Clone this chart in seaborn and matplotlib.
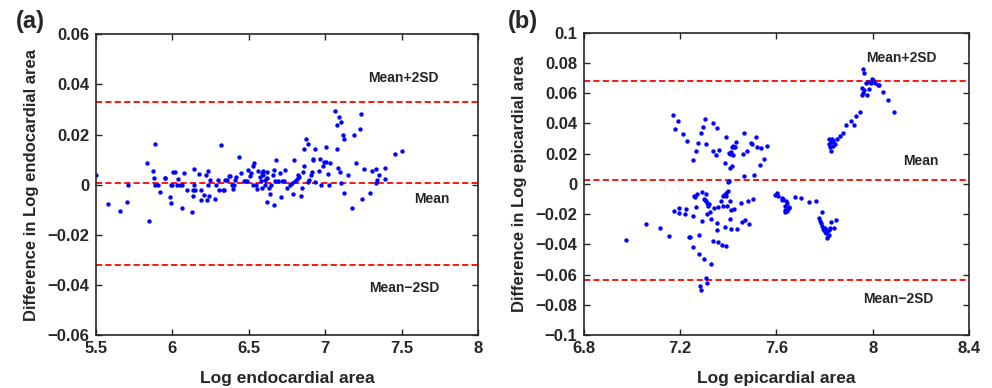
import matplotlib
matplotlib.use('Agg')
import matplotlib.pyplot as plt
import seaborn as sns
import pandas as pd
from matplotlib.ticker import FuncFormatter

# panel (a): endocardial
endo_x = [5.500, 5.576, 5.657, 5.703, 5.711, 5.833, 5.847, 5.871, 5.877, 5.884,
          5.884, 5.908, 5.921, 5.949, 5.953, 5.984, 5.988, 5.993, 6.001, 6.014,
          5.997, 6.030, 6.038, 6.051, 6.060, 6.064, 6.073, 6.095, 6.130, 6.134,
          6.134, 6.143, 6.143, 6.147, 6.171, 6.184, 6.189, 6.208, 6.217, 6.226,
          6.230, 6.235, 6.239, 6.243, 6.278, 6.282, 6.300, 6.304, 6.320, 6.328,
          6.339, 6.346, 6.354, 6.370, 6.376, 6.387, 6.398, 6.405, 6.411, 6.418,
          6.435, 6.446, 6.466, 6.476, 6.492, 6.487, 6.505, 6.511, 6.524, 6.529,
          6.537, 6.544, 6.551, 6.561, 6.570, 6.577, 6.585, 6.588, 6.592, 6.594,
          6.605, 6.609, 6.616, 6.618, 6.622, 6.629, 6.638, 6.644, 6.655, 6.662,
          6.664, 6.670, 6.679, 6.690, 6.701, 6.710, 6.716, 6.731, 6.738, 6.749,
          6.769, 6.782, 6.788, 6.795, 6.801, 6.812, 6.825, 6.830, 6.843, 6.849,
          6.854, 6.858, 6.864, 6.873, 6.884, 6.890, 6.897, 6.908, 6.915, 6.917,
          6.923, 6.930, 6.934, 6.960, 6.965, 6.973, 6.986, 6.989, 7.004, 7.008,
          7.017, 7.026, 7.032, 7.061, 7.074, 7.078, 7.082, 7.091, 7.095, 7.106,
          7.106, 7.115, 7.124, 7.126, 7.150, 7.178, 7.187, 7.204, 7.226, 7.231,
          7.239, 7.255, 7.292, 7.307, 7.331, 7.335, 7.342, 7.353, 7.390, 7.392,
          7.459, 7.505]
endo_diff = [0.0040, -0.0076, -0.0106, -0.0068, 0.0000, 0.0086, -0.0146, 0.0056, 0.0028, 0.0164,
             0.0000, 0.0000, -0.0028, 0.0025, 0.0025, -0.0051, 0.0000, -0.0074, 0.0049, 0.0049,
             0.0000, 0.0000, 0.0023, 0.0000, 0.0000, -0.0094, 0.0045, -0.0023, -0.0109, -0.0023,
             -0.0044, 0.0000, 0.0063, -0.0023, 0.0041, -0.0063, -0.0023, -0.0043, 0.0040, -0.0063,
             0.0056, 0.0000, -0.0044, 0.0017, -0.0059, 0.0000, 0.0017, -0.0020, 0.0160, -0.0020,
             -0.0020, 0.0017, 0.0017, 0.0033, 0.0033, 0.0000, -0.0017, 0.0000, 0.0017, 0.0031,
             0.0110, 0.0047, 0.0013, 0.0013, 0.0060, 0.0013, 0.0033, 0.0047, 0.0000, 0.0074,
             0.0086, 0.0000, -0.0017, 0.0056, 0.0031, 0.0013, -0.0015, 0.0047, 0.0056, 0.0040,
             0.0000, 0.0017, 0.0052, -0.0069, 0.0027, -0.0015, -0.0037, 0.0000, 0.0040, -0.0080,
             0.0060, 0.0013, 0.0100, 0.0013, 0.0047, -0.0049, 0.0013, 0.0013, 0.0057, -0.0015,
             0.0000, 0.0005, -0.0036, 0.0098, 0.0013, 0.0023, 0.0040, 0.0031, -0.0047, -0.0013,
             0.0052, 0.0073, 0.0142, 0.0182, 0.0162, 0.0012, 0.0017, 0.0040, 0.0052, 0.0104,
             0.0097, 0.0012, 0.0141, 0.0056, 0.0104, 0.0000, 0.0073, 0.0090, 0.0152, 0.0089,
             0.0044, 0.0000, 0.0088, 0.0294, 0.0142, 0.0239, 0.0065, 0.0269, 0.0049, 0.0249,
             0.0008, 0.0200, -0.0033, 0.0182, 0.0039, -0.0093, 0.0200, 0.0088, 0.0222, 0.0282,
             -0.0059, 0.0063, -0.0035, 0.0053, 0.0005, 0.0063, 0.0017, 0.0037, 0.0023, 0.0065,
             0.0124, 0.0134]
endo_limits = [0.0331, 0.0006, -0.0320]   # mean+2SD, mean, mean-2SD

# panel (b): epicardial
epi_x = [6.973, 7.058, 7.114, 7.155, 7.168, 7.173, 7.180, 7.191, 7.195, 7.195,
         7.210, 7.220, 7.225, 7.229, 7.236, 7.241, 7.252, 7.252, 7.253, 7.259,
         7.261, 7.264, 7.264, 7.271, 7.272, 7.279, 7.279, 7.282, 7.285, 7.286,
         7.289, 7.290, 7.293, 7.299, 7.300, 7.301, 7.304, 7.306, 7.306, 7.308,
         7.308, 7.310, 7.312, 7.312, 7.315, 7.317, 7.319, 7.322, 7.328, 7.329,
         7.335, 7.335, 7.339, 7.337, 7.349, 7.353, 7.353, 7.353, 7.356, 7.358,
         7.362, 7.368, 7.372, 7.378, 7.379, 7.383, 7.385, 7.386, 7.389, 7.390,
         7.391, 7.391, 7.396, 7.398, 7.400, 7.401, 7.403, 7.405, 7.405, 7.407,
         7.408, 7.409, 7.409, 7.412, 7.415, 7.415, 7.418, 7.419, 7.422, 7.424,
         7.428, 7.431, 7.435, 7.452, 7.458, 7.461, 7.464, 7.465, 7.469, 7.477,
         7.480, 7.484, 7.494, 7.497, 7.504, 7.508, 7.516, 7.520, 7.530, 7.534,
         7.549, 7.560,
         7.595, 7.603, 7.608, 7.621, 7.623, 7.628, 7.635, 7.635, 7.637, 7.639,
         7.644, 7.645, 7.646, 7.651, 7.653, 7.677, 7.703, 7.734, 7.766, 7.777,
         7.779, 7.784, 7.788, 7.789, 7.792, 7.797, 7.800, 7.802, 7.804, 7.808,
         7.811, 7.814, 7.817, 7.820, 7.824, 7.828, 7.839, 7.849,
         7.817, 7.820, 7.822, 7.825, 7.828, 7.831, 7.833, 7.836, 7.843, 7.850,
         7.865, 7.876, 7.890, 7.908, 7.921, 7.932, 7.946, 7.954, 7.957, 7.959,
         7.965, 7.971, 7.975, 7.979, 7.984, 7.993, 7.997, 8.002, 8.008, 8.020,
         8.026, 8.043, 8.065, 8.088, 7.958, 7.965]
epi_diff = [-0.0372, -0.0263, -0.0290, -0.0343, 0.0453, -0.0178, 0.0361, 0.0413, -0.0158, -0.0195,
            0.0327, -0.0197, -0.0169, 0.0286, -0.0352, -0.0352, 0.0155, -0.0416, -0.0215, -0.0078,
            -0.0089, 0.0215, -0.0155, -0.0069, 0.0268, -0.0336, -0.0466, -0.0674, 0.0336, -0.0702,
            -0.0243, -0.0056, 0.0374, -0.0103, -0.0499, 0.0427, -0.0107, 0.0261, -0.0623, -0.0067,
            -0.0111, -0.0202, -0.0656, -0.0127, -0.0130, -0.0144, -0.0133, -0.0186, -0.0528, -0.0235,
            0.0402, 0.0219, -0.0160, -0.0378, 0.0193, 0.0372, -0.0257, -0.0305, -0.0153, -0.0385,
            0.0222, -0.0116, -0.0402, -0.0083, -0.0149, -0.0076, 0.0140, -0.0283, -0.0409, 0.0310,
            -0.0080, -0.0058, -0.0149, -0.0050, 0.0012, 0.0021, 0.0202, 0.0195, 0.0107, -0.0114,
            -0.0230, -0.0301, -0.0173, 0.0212, 0.0116, 0.0246, 0.0193, 0.0248, -0.0164, 0.0246,
            0.0246, 0.0275, -0.0301, -0.0129, -0.0255, 0.0195, 0.0334, 0.0054, -0.0241, 0.0219,
            -0.0111, -0.0263, 0.0272, 0.0266, -0.0103, 0.0061, 0.0308, 0.0244, 0.0125, 0.0237,
            0.0162, 0.0248,
            -0.0072, -0.0063, -0.0083, -0.0094, -0.0107, -0.0103, -0.0189, -0.0171, -0.0144, -0.0116,
            -0.0129, -0.0182, -0.0158, -0.0151, -0.0162, -0.0087, -0.0096, -0.0118, -0.0116, -0.0228,
            -0.0243, -0.0261, -0.0277, -0.0184, -0.0301, -0.0305, -0.0321, -0.0290, -0.0327, -0.0358,
            -0.0312, -0.0345, -0.0305, -0.0341, -0.0292, -0.0255, -0.0292, -0.0239,
            0.0297, 0.0264, 0.0246, 0.0279, 0.0217, 0.0297, 0.0252, 0.0286, 0.0264, 0.0297,
            0.0319, 0.0338, 0.0387, 0.0416, 0.0387, 0.0449, 0.0473, 0.0632, 0.0588, 0.0603,
            0.0621, 0.0667, 0.0588, 0.0676, 0.0625, 0.0669, 0.0696, 0.0687, 0.0669, 0.0652,
            0.0652, 0.0610, 0.0555, 0.0473, 0.0757, 0.0735]
epi_limits = [0.0680, 0.0023, -0.0636]

limit_names = ['Mean+2SD', 'Mean', 'Mean\u22122SD']

sns.set_style('ticks')
plt.rcParams['font.family'] = ['Liberation Sans', 'DejaVu Sans']
plt.rcParams['font.weight'] = 'bold'
plt.rcParams['axes.labelweight'] = 'bold'

fig = plt.figure(figsize=(9.92, 3.88), dpi=100)
ax_a = fig.add_axes([0.0968, 0.1366, 0.3851, 0.7750])
ax_b = fig.add_axes([0.5887, 0.1366, 0.3881, 0.7791])

fmt = FuncFormatter(lambda v, p: '0' if abs(v) < 1e-9 else f'{v:g}'.replace('-', '\u2212'))


def draw_panel(ax, xs, ys, limits, xlim, ylim, xticks, yticks, xlabel, ylabel, text_pos):
    df = pd.DataFrame({'x': xs, 'y': ys})
    for val in limits:
        ax.axhline(val, color='red', linestyle='--', linewidth=1.3, dashes=(3.4, 1.8), zorder=1)
    sns.scatterplot(data=df, x='x', y='y', ax=ax, color='blue', s=10, linewidth=0, zorder=2)
    ax.set_xlim(*xlim)
    ax.set_ylim(*ylim)
    ax.set_xticks(xticks)
    ax.set_yticks(yticks)
    ax.xaxis.set_major_formatter(fmt)
    ax.yaxis.set_major_formatter(fmt)
    ax.tick_params(direction='in', top=True, right=True, length=4, width=1,
                   labelsize=12)
    ax.tick_params(axis='x', pad=4)
    ax.tick_params(axis='y', pad=5)
    for lab in ax.get_xticklabels() + ax.get_yticklabels():
        lab.set_fontweight('bold')
    for sp in ax.spines.values():
        sp.set_linewidth(1.2)
        sp.set_visible(True)
    ax.set_xlabel(xlabel, fontsize=12.5, fontweight='bold', labelpad=11)
    ax.set_ylabel(ylabel, fontsize=12, fontweight='bold', labelpad=6)
    for name, (tx, ty) in zip(limit_names, text_pos):
        ax.text(tx, ty, name, ha='center', va='center', fontsize=10, fontweight='bold')


draw_panel(ax_a, endo_x, endo_diff, endo_limits, (5.5, 8), (-0.06, 0.06),
           [5.5, 6, 6.5, 7, 7.5, 8], [-0.06, -0.04, -0.02, 0, 0.02, 0.04, 0.06],
           'Log endocardial area', 'Difference in Log endocardial area',
           [(7.51, 0.0424), (7.70, -0.0058), (7.52, -0.0413)])
draw_panel(ax_b, epi_x, epi_diff, epi_limits, (6.8, 8.4), (-0.1, 0.1),
           [6.8, 7.2, 7.6, 8, 8.4], [-0.1, -0.08, -0.06, -0.04, -0.02, 0, 0.02, 0.04, 0.06, 0.08, 0.1],
           'Log epicardial area', 'Difference in Log epicardial area',
           [(8.12, 0.083), (8.198, 0.0149), (8.105, -0.0762)])

fig.text(0.031, 0.945, '(a)', ha='center', va='center', fontsize=17, fontweight='bold')
fig.text(0.527, 0.945, '(b)', ha='center', va='center', fontsize=17, fontweight='bold')

fig.savefig('out.png', dpi=100)
